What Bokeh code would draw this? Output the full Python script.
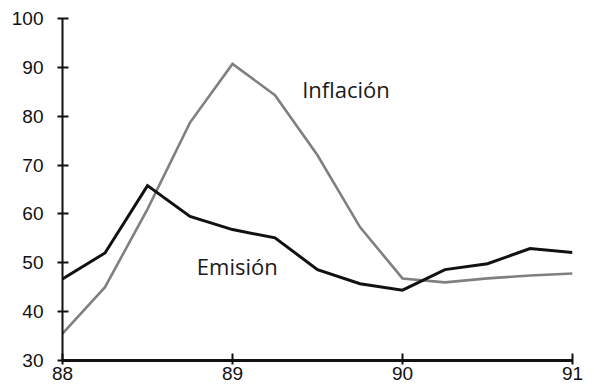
from bokeh.plotting import figure
from bokeh.models import Range1d, FixedTicker, ColumnDataSource
from bokeh.core.properties import value
from bokeh.embed import file_html
from bokeh.resources import INLINE

# Quarterly observations, 1988 to 1991
quarters = [88.0, 88.25, 88.5, 88.75, 89.0, 89.25, 89.5, 89.75,
            90.0, 90.25, 90.5, 90.75, 91.0]
inflacion = [35.5, 45.0, 61.0, 78.7, 90.7, 84.3, 72.0, 57.3,
             46.8, 46.0, 46.8, 47.4, 47.8]
emision = [46.7, 52.0, 65.8, 59.5, 56.8, 55.1, 48.6, 45.7,
           44.4, 48.6, 49.8, 52.9, 52.1]

x_ticks = [88, 89, 90, 91]
x_tick_labels = ["88", "89", "90", "91"]
y_ticks = [30, 40, 50, 60, 70, 80, 90, 100]

# Series names written next to their lines
series_names = ["Inflación", "Emisión"]
name_x = [89.41, 88.79]
name_y = [85.6, 49.4]

source = ColumnDataSource(data=dict(q=quarters, inf=inflacion, emi=emision))

p = figure(width=594, height=388, output_backend="svg", toolbar_location=None,
           x_range=Range1d(88, 91), y_range=Range1d(30, 100),
           min_border_left=62, min_border_right=22,
           min_border_top=18, min_border_bottom=28)
p.outline_line_color = None
p.grid.visible = False
p.background_fill_color = "white"
p.border_fill_color = "white"

p.line("q", "inf", source=source, line_color="#808080", line_width=2.6,
       line_join="miter")
p.line("q", "emi", source=source, line_color="#111111", line_width=3,
       line_join="miter")

p.text(x=name_x, y=name_y, text=series_names,
       text_font=value("Open Sans"), text_font_size="22px",
       text_color="#1a1a1a", text_align="left", text_baseline="alphabetic")

# Axes
p.xaxis.ticker = FixedTicker(ticks=x_ticks)
p.xaxis.major_label_overrides = {t: s for t, s in zip(x_ticks, x_tick_labels)}
p.yaxis.ticker = FixedTicker(ticks=y_ticks)

for ax in (p.xaxis[0], p.yaxis[0]):
    ax.axis_line_color = "#111111"
    ax.major_tick_line_color = "#111111"
    ax.major_tick_line_width = 2
    ax.minor_tick_line_color = None
    ax.major_label_text_font = "Liberation Sans"
    ax.major_label_text_font_size = "19px"
    ax.major_label_text_color = "#111111"

p.xaxis.axis_line_width = 3
p.xaxis.major_tick_in = 7
p.xaxis.major_tick_out = 4
p.xaxis.major_label_standoff = 2

p.yaxis.axis_line_width = 2
p.yaxis.major_tick_in = 6
p.yaxis.major_tick_out = 5
p.yaxis.major_label_standoff = 14

open("out.html", "w").write(file_html(p, INLINE))
